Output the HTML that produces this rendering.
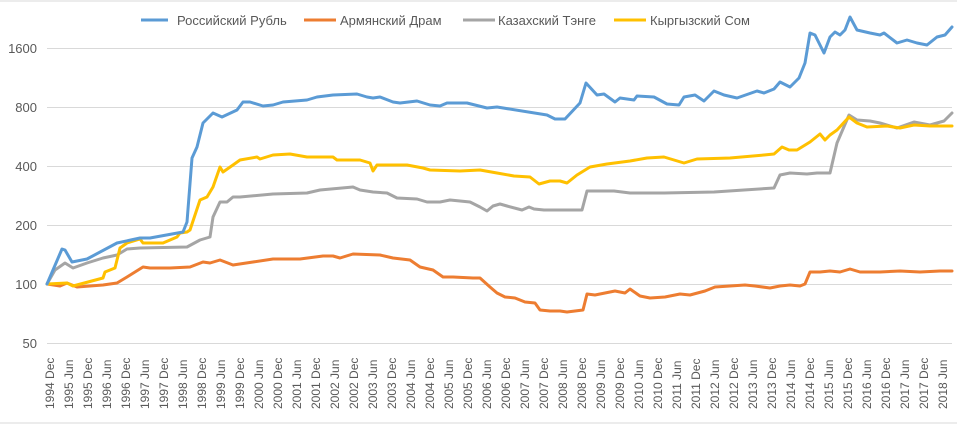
<!DOCTYPE html>
<html><head><meta charset="utf-8"><style>
body{margin:0;background:#fff;}
svg{display:block;font-family:"Liberation Sans",sans-serif;}
</style></head><body>
<svg width="957" height="424" viewBox="0 0 957 424">
<rect x="0" y="0" width="957" height="424" fill="#fff"/>
<line x1="0" y1="1" x2="957" y2="1" stroke="#d9d9d9"/>
<line x1="0" y1="423" x2="957" y2="423" stroke="#d9d9d9"/>
<g stroke="#d9d9d9" stroke-width="1">
<line x1="47" y1="48.5" x2="952" y2="48.5"/>
<line x1="47" y1="107.5" x2="952" y2="107.5"/>
<line x1="47" y1="166.5" x2="952" y2="166.5"/>
<line x1="47" y1="225.5" x2="952" y2="225.5"/>
<line x1="47" y1="284.5" x2="952" y2="284.5"/>
<line x1="47" y1="343.5" x2="952" y2="343.5"/>
</g>
<g fill="#595959" font-size="13" text-anchor="end">
<text x="37" y="53">1600</text>
<text x="37" y="112">800</text>
<text x="37" y="171">400</text>
<text x="37" y="230">200</text>
<text x="37" y="289">100</text>
<text x="37" y="348">50</text>
</g>
<g fill="#595959" font-size="12" id="xl"></g>
<g fill="none" stroke-width="3" stroke-linejoin="round" stroke-linecap="round">
<polyline stroke="#ed7d31" points="47,284 60,286 67,283 77,287 103,285 117,283 127,277 143,267 150,268 170,268 190,267 203,262 210,263 220,260 233,265 253,262 273,259 300,259 323,256 333,256 340,258 353,254 380,255 393,258 410,260 420,267 433,270 443,277 453,277 473,278 480,278 490,287 497,293 505,297 515,298 525,302 535,303 540,310 550,311 560,311 567,312 575,311 583,310 587,294 595,295 605,293 615,291 625,293 630,289 640,296 650,298 665,297 680,294 690,295 705,291 715,287 730,286 745,285 755,286 770,288 780,286 790,285 800,286 805,284 810,272 820,272 830,271 840,272 850,269 860,272 880,272 900,271 920,272 940,271 952,271"/>
<polyline stroke="#a5a5a5" points="47,284 55,270 65,263 73,268 87,263 103,258 117,255 127,249 140,248 187,247 200,240 210,237 213,217 220,202 227,202 233,197 240,197 273,194 307,193 320,190 353,187 360,190 373,192 387,193 397,198 417,199 427,202 440,202 450,200 470,202 480,207 487,211 493,206 500,204 507,206 522,210 529,207 534,209 544,210 582,210 587,191 614,191 630,193 664,193 714,192 744,190 774,188 780,175 790,173 807,174 817,173 830,173 837,143 849,115 857,120 870,121 880,123 897,128 914,122 930,125 944,121 952,113"/>
<polyline stroke="#ffc000" points="47,284 67,283 73,286 103,278 105,272 115,268 120,248 127,243 140,239 143,243 163,243 177,237 180,233 187,232 190,230 200,200 207,197 213,187 220,167 223,172 233,165 240,160 257,157 260,159 273,155 290,154 307,157 333,157 337,160 360,160 370,163 373,171 377,165 407,165 423,168 430,170 460,171 480,170 497,173 514,176 530,177 539,184 550,181 560,181 567,183 577,175 590,167 607,164 630,161 647,158 664,157 684,163 697,159 730,158 764,155 774,154 782,147 789,150 797,150 810,142 820,134 825,140 830,135 837,130 849,117 857,123 867,127 887,126 900,128 914,125 930,126 952,126"/>
<polyline stroke="#5b9bd5" points="47,284 62,249 65,250 72,262 87,259 117,243 140,238 150,238 183,232 187,222 192,158 197,147 203,123 213,113 222,117 237,110 243,102 250,102 263,106 273,105 283,102 307,100 317,97 333,95 357,94 367,97 373,98 380,97 393,102 400,103 417,101 430,105 440,106 447,103 467,103 487,108 497,107 547,115 555,119 565,119 580,103 586,83 597,95 604,94 615,102 620,98 634,100 637,96 654,97 667,104 679,105 684,97 695,95 704,101 714,91 724,95 737,98 757,91 764,93 774,89 780,82 790,87 799,78 805,63 810,33 815,35 824,53 830,37 835,32 840,35 845,30 850,17 857,30 870,33 880,35 884,33 897,43 907,40 917,43 927,45 937,37 945,35 952,27"/>
</g>
<g font-size="13" fill="#595959">
<line x1="141" y1="20" x2="168" y2="20" stroke="#5b9bd5" stroke-width="3"/>
<text x="177" y="25">Российский Рубль</text>
<line x1="304" y1="20" x2="336" y2="20" stroke="#ed7d31" stroke-width="3"/>
<text x="340" y="25">Армянский Драм</text>
<line x1="463" y1="20" x2="495" y2="20" stroke="#a5a5a5" stroke-width="3"/>
<text x="498" y="25">Казахский Тэнге</text>
<line x1="614" y1="20" x2="646" y2="20" stroke="#ffc000" stroke-width="3"/>
<text x="650" y="25">Кыргызский Сом</text>
</g>
<g fill="#595959" font-size="12">
<text transform="translate(54,409) rotate(-90)">1994 Dec</text>
<text transform="translate(73,409) rotate(-90)">1995 Jun</text>
<text transform="translate(92,409) rotate(-90)">1995 Dec</text>
<text transform="translate(111,409) rotate(-90)">1996 Jun</text>
<text transform="translate(130,409) rotate(-90)">1996 Dec</text>
<text transform="translate(149,409) rotate(-90)">1997 Jun</text>
<text transform="translate(168,409) rotate(-90)">1997 Dec</text>
<text transform="translate(187,409) rotate(-90)">1998 Jun</text>
<text transform="translate(206,409) rotate(-90)">1998 Dec</text>
<text transform="translate(225,409) rotate(-90)">1999 Jun</text>
<text transform="translate(244,409) rotate(-90)">1999 Dec</text>
<text transform="translate(263,409) rotate(-90)">2000 Jun</text>
<text transform="translate(282,409) rotate(-90)">2000 Dec</text>
<text transform="translate(301,409) rotate(-90)">2001 Jun</text>
<text transform="translate(320,409) rotate(-90)">2001 Dec</text>
<text transform="translate(339,409) rotate(-90)">2002 Jun</text>
<text transform="translate(358,409) rotate(-90)">2002 Dec</text>
<text transform="translate(377,409) rotate(-90)">2003 Jun</text>
<text transform="translate(396,409) rotate(-90)">2003 Dec</text>
<text transform="translate(415,409) rotate(-90)">2004 Jun</text>
<text transform="translate(434,409) rotate(-90)">2004 Dec</text>
<text transform="translate(453,409) rotate(-90)">2005 Jun</text>
<text transform="translate(472,409) rotate(-90)">2005 Dec</text>
<text transform="translate(491,409) rotate(-90)">2006 Jun</text>
<text transform="translate(510,409) rotate(-90)">2006 Dec</text>
<text transform="translate(529,409) rotate(-90)">2007 Jun</text>
<text transform="translate(548,409) rotate(-90)">2007 Dec</text>
<text transform="translate(567,409) rotate(-90)">2008 Jun</text>
<text transform="translate(586,409) rotate(-90)">2008 Dec</text>
<text transform="translate(605,409) rotate(-90)">2009 Jun</text>
<text transform="translate(624,409) rotate(-90)">2009 Dec</text>
<text transform="translate(643,409) rotate(-90)">2010 Jun</text>
<text transform="translate(662,409) rotate(-90)">2010 Dec</text>
<text transform="translate(681,409) rotate(-90)">2011 Jun</text>
<text transform="translate(700,409) rotate(-90)">2011 Dec</text>
<text transform="translate(719,409) rotate(-90)">2012 Jun</text>
<text transform="translate(738,409) rotate(-90)">2012 Dec</text>
<text transform="translate(757,409) rotate(-90)">2013 Jun</text>
<text transform="translate(776,409) rotate(-90)">2013 Dec</text>
<text transform="translate(795,409) rotate(-90)">2014 Jun</text>
<text transform="translate(814,409) rotate(-90)">2014 Dec</text>
<text transform="translate(833,409) rotate(-90)">2015 Jun</text>
<text transform="translate(852,409) rotate(-90)">2015 Dec</text>
<text transform="translate(871,409) rotate(-90)">2016 Jun</text>
<text transform="translate(890,409) rotate(-90)">2016 Dec</text>
<text transform="translate(909,409) rotate(-90)">2017 Jun</text>
<text transform="translate(928,409) rotate(-90)">2017 Dec</text>
<text transform="translate(947,409) rotate(-90)">2018 Jun</text>
</g>
</svg>
</body></html>
